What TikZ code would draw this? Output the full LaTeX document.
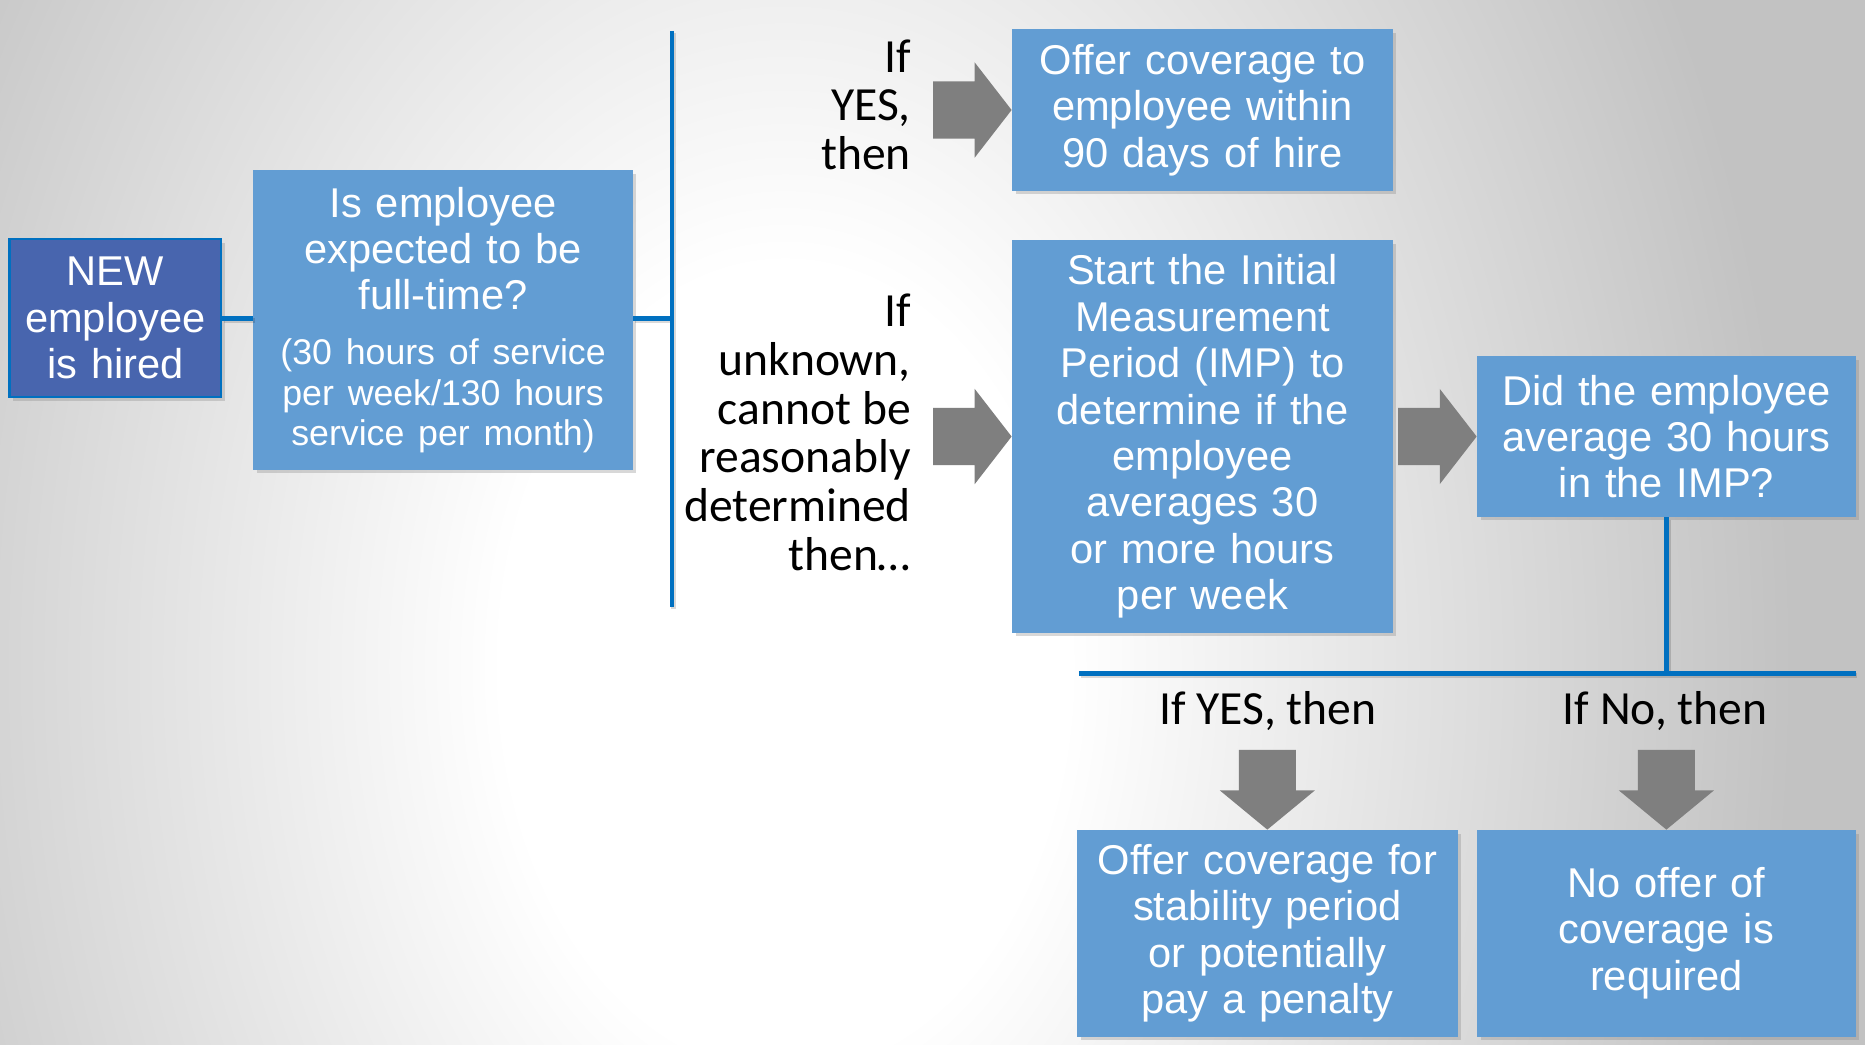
\documentclass[tikz,border=0pt]{standalone}
\usepackage{fontspec}
\setmainfont{Liberation Sans}
\newfontfamily\calibri{Carlito}
\usetikzlibrary{positioning,shadows}

\definecolor{boxblue}{RGB}{98,157,211}
\definecolor{newblue}{RGB}{72,101,174}
\definecolor{lineblue}{RGB}{0,112,192}
\definecolor{arrowgray}{RGB}{127,127,127}

\pgfdeclareradialshading{slidebg}{\pgfpoint{0bp}{0bp}}{color(0bp)=(white); color(3.5bp)=(white); color(12.5bp)=(black!24); color(50bp)=(black!24)}

\tikzset{
  box/.style={fill=boxblue, draw=boxblue, line width=1pt, text=white, align=center, inner sep=0pt,
    font=\fontsize{35}{39}\selectfont,
    drop shadow={shadow xshift=3pt, shadow yshift=-3pt, opacity=0.3}},
  newbox/.style={box, fill=newblue, draw=lineblue, line width=2pt, font=\fontsize{35}{39}\selectfont},
  link/.style={draw=lineblue, line width=4pt,
    preaction={draw=black, opacity=0.15, line width=4pt, transform canvas={xshift=1.5pt, yshift=-2pt}}},
  ifnote/.style={font=\calibri\fontsize{40}{41}\selectfont, align=right, inner sep=0pt, anchor=east},
  branchnote/.style={font=\calibri\fontsize{40}{41}\selectfont, inner sep=0pt},
  rblk/.pic={\fill[arrowgray] (0,-24) -- (35,-24) -- (35,-40) -- (66,0) -- (35,40) -- (35,24) -- (0,24) -- cycle;},
  dblk/.pic={\fill[arrowgray] (-24,0) -- (-24,34) -- (-40,34) -- (0,67) -- (40,34) -- (24,34) -- (24,0) -- cycle;},
}

\begin{document}
\begin{tikzpicture}[x=1pt,y=-1pt]
\useasboundingbox (0,0) rectangle (1568,878);
\begin{scope}
  \clip (0,0) rectangle (1568,878);
  \shade[shading=slidebg] (660,560) ellipse (1700 and 2400);
\end{scope}

% boxes
\node[newbox, minimum width=178pt, minimum height=133pt, text width=172pt] (hired) at (97,267.5) {NEW\\employee\\is hired};
\node[box, minimum width=319pt, minimum height=251pt, text width=309pt] (fulltime) at (372.5,269)
  {{\fontsize{35}{39}\selectfont Is employee\\expected to be\\full-time?\par}\vskip12pt
   {\fontsize{30}{34}\selectfont (30 hours of service\\per week/130 hours\\service per month)\par}};
\node[box, minimum width=320pt, minimum height=136pt, text width=310pt] (offer) at (1011,92.5) {Offer coverage to\\employee within\\90 days of hire};
\node[box, minimum width=320pt, minimum height=330pt, text width=310pt] (imp) at (1011,367) {Start the Initial\\Measurement\\Period (IMP) to\\determine if the\\employee\\averages 30\\or more hours\\per week};
\node[box, minimum width=318pt, minimum height=135pt, text width=310pt] (avg) at (1401,367) {Did the employee\\average 30 hours\\in the IMP?};
\node[box, minimum width=319pt, minimum height=173pt, text width=309pt] (stable) at (1065.5,784.5) {Offer coverage for\\stability period\\or potentially\\pay a penalty};
\node[box, minimum width=318pt, minimum height=173pt, text width=308pt] (nooffer) at (1401,784.5) {No offer of\\coverage is\\required};

% connectors
\coordinate (vtop) at (565,26);
\coordinate (vbot) at (565,510);
\coordinate (hleft) at (907,566);
\coordinate (hright) at (1560,566);
\draw[link] (hired.east) -- (fulltime.west |- hired.east);
\draw[link] (fulltime.east |- hired.east) -- (vtop |- hired.east);
\draw[link] (vtop) -- (vbot);
\draw[link] (avg.south) -- (avg.south |- hleft);
\draw[link] (hleft) -- (hright);

% labels
\node[ifnote] (ifyes) at (766,88) {If\\YES,\\then};
\node[ifnote] (ifunknown) at (766,363.5) {If\\unknown,\\cannot be\\reasonably\\determined\\then…};
\node[branchnote] (yesthen) at (1066,598) {If YES, then};
\node[branchnote] (nothen) at (1400,598) {If No, then};

% block arrows
\pic at ([xshift=-66pt]offer.west) {rblk};
\pic at ([xshift=-66pt]imp.west) {rblk};
\pic at ([xshift=-66pt]avg.west) {rblk};
\pic at ([yshift=67pt]stable.north) {dblk};
\pic at ([yshift=67pt]nooffer.north) {dblk};
\end{tikzpicture}
\end{document}
